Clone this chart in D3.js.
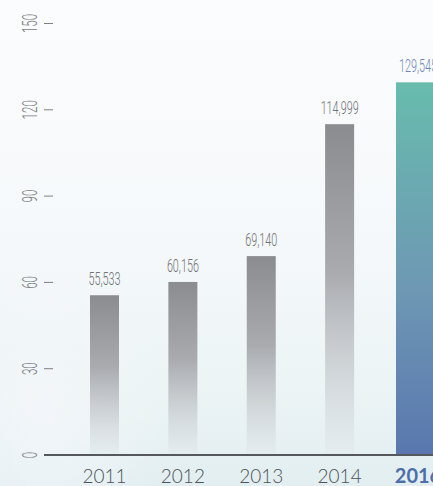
<!DOCTYPE html>
<html>
<head>
<meta charset="utf-8">
<script src="https://cdn.jsdelivr.net/npm/d3@7/dist/d3.min.js"></script>
<style>
  html, body { margin: 0; padding: 0; background: #f6f9fb; overflow: hidden; }
  svg { display: block; }
</style>
</head>
<body>
<script>
// Annual totals (thousands on the axis), last year highlighted
const years = ["2011", "2012", "2013", "2014", "2016"];
const values = [55533, 60156, 69140, 114999, 129545];
const yTicks = [0, 30, 60, 90, 120, 150];
const highlightYear = "2016";

const W = 433, H = 486;
const svg = d3.select("body").append("svg").attr("width", W).attr("height", H);
const defs = svg.append("defs");

// soft backdrop
const bg = defs.append("linearGradient").attr("id", "bg").attr("x1", 0).attr("y1", 0).attr("x2", 0).attr("y2", 1);
bg.append("stop").attr("offset", "0%").attr("stop-color", "#fbfcfd");
bg.append("stop").attr("offset", "45%").attr("stop-color", "#f6f9fb");
bg.append("stop").attr("offset", "80%").attr("stop-color", "#ecf4f5");
bg.append("stop").attr("offset", "100%").attr("stop-color", "#e2eef0");
svg.append("rect").attr("width", W).attr("height", H).attr("fill", "url(#bg)");

const haze = defs.append("radialGradient").attr("id", "haze").attr("cx", 0.1).attr("cy", 0.85).attr("r", 0.3);
haze.append("stop").attr("offset", "0%").attr("stop-color", "#f4f7fb").attr("stop-opacity", 0.8);
haze.append("stop").attr("offset", "100%").attr("stop-color", "#f4f7fb").attr("stop-opacity", 0);
svg.append("rect").attr("width", W).attr("height", H).attr("fill", "url(#haze)");

// bar fills
const grey = defs.append("linearGradient").attr("id", "greyBar").attr("x1", 0).attr("y1", 0).attr("x2", 0).attr("y2", 1);
grey.append("stop").attr("offset", "0%").attr("stop-color", "#8b8c90");
grey.append("stop").attr("offset", "45%").attr("stop-color", "#a9abaf");
grey.append("stop").attr("offset", "100%").attr("stop-color", "#e3eaed").attr("stop-opacity", 0.6);

const hi = defs.append("linearGradient").attr("id", "hiBar").attr("x1", 0).attr("y1", 0).attr("x2", 0).attr("y2", 1);
hi.append("stop").attr("offset", "0%").attr("stop-color", "#68bcad");
hi.append("stop").attr("offset", "55%").attr("stop-color", "#6e98b4");
hi.append("stop").attr("offset", "100%").attr("stop-color", "#5977ae");

const y = d3.scaleLinear().domain([0, 150]).range([455, 23.5]);
const x = d3.scalePoint().domain(years).range([104.5, 418]);
const barW = 29, hiW = 44;

const data = years.map((yr, i) => ({ year: yr, value: values[i], hi: yr === highlightYear }));

// bars
svg.append("g").selectAll("rect").data(data).join("rect")
  .attr("x", d => x(d.year) - (d.hi ? hiW : barW) / 2)
  .attr("width", d => d.hi ? hiW : barW)
  .attr("y", d => y(d.value / 1000))
  .attr("height", d => y(0) - y(d.value / 1000))
  .attr("fill", d => d.hi ? "url(#hiBar)" : "url(#greyBar)");

// value labels, condensed
const fmt = d3.format(",");
svg.append("g").selectAll("g").data(data).join("g")
  .attr("transform", d => `translate(${x(d.year)},${y(d.value / 1000) - 10}) scale(0.6,1)`)
  .append("text")
  .attr("text-anchor", "middle")
  .attr("font-family", "Roboto")
  .attr("font-weight", 300)
  .attr("font-size", 18)
  .attr("fill", d => d.hi ? "#6d84bd" : "#707276")
  .text(d => fmt(d.value));

// y axis: rotated labels with short tick dashes
const yAxis = svg.append("g");
yAxis.selectAll("line").data(yTicks).join("line")
  .attr("x1", 44).attr("x2", 53)
  .attr("y1", d => y(d)).attr("y2", d => y(d))
  .attr("stroke", "#7d8085").attr("stroke-width", 1);
yAxis.selectAll("g").data(yTicks).join("g")
  .attr("transform", d => `translate(37,${y(d)}) rotate(-90) scale(0.55,1)`)
  .append("text")
  .attr("text-anchor", "middle")
  .attr("font-family", "Roboto")
  .attr("font-weight", 300)
  .attr("font-size", 21)
  .attr("fill", "#7d8085")
  .text(d => d);

// baseline
svg.append("line")
  .attr("x1", 44).attr("x2", W)
  .attr("y1", y(0)).attr("y2", y(0))
  .attr("stroke", "#55595e").attr("stroke-width", 2);

// year labels
svg.append("g").selectAll("text").data(data).join("text")
  .attr("x", d => x(d.year))
  .attr("y", 483)
  .attr("text-anchor", "middle")
  .attr("font-family", "Lato")
  .attr("font-weight", d => d.hi ? 700 : 300)
  .attr("font-size", d => d.hi ? 20 : 19)
  .attr("fill", d => d.hi ? "#4d6ea9" : "#4f5257")
  .text(d => d.year);
</script>
</body>
</html>
